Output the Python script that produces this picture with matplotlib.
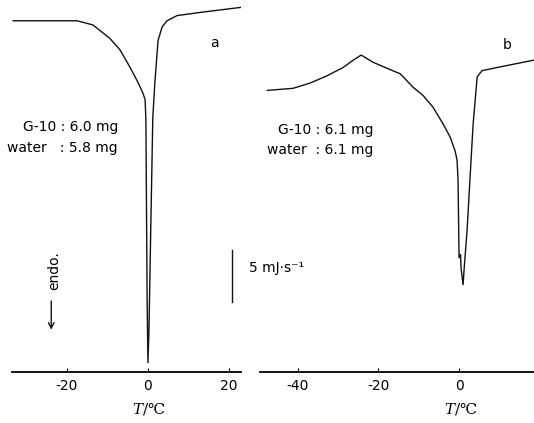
import matplotlib
matplotlib.use('Agg')
import matplotlib.pyplot as plt
import matplotlib.transforms as mtransforms

plt.rcParams['mathtext.fontset'] = 'dejavuserif'

# DSC curve a (G-10 6.0 mg / water 5.8 mg): temperature (C), heat flow (mJ/s, arbitrary offset)
temp_a = [-33.3, -26.7, -17.5, -13.6, -9.4, -6.9, -4.4, -2.5, -1.2, -0.7, -0.5, -0.37, -0.2, 0.0,
          0.25, 0.6, 1.2, 1.7, 2.5, 3.5, 4.7, 7.2, 12.8, 23.2]
flow_a = [33.8, 33.8, 33.8, 33.4, 32.1, 31.0, 29.3, 27.9, 26.8, 26.2, 24.2, 16.5, 6.9, 0.9,
          4.0, 11.7, 24.5, 27.8, 31.9, 33.2, 33.8, 34.3, 34.6, 35.1]

# DSC curve b (G-10 6.1 mg / water 6.1 mg)
temp_b = [-47.6, -41.2, -37.0, -32.8, -28.8, -26.3, -24.3, -21.3, -17.1, -14.6, -11.4, -8.9,
          -6.5, -4.0, -2.2, -1.0, -0.5, -0.25, -0.12, 0.0, 0.37, 0.5, 1.0, 1.24, 2.0, 2.7,
          3.5, 4.5, 5.7, 9.4, 18.4]
flow_b = [27.1, 27.3, 27.8, 28.5, 29.3, 30.0, 30.5, 29.8, 29.1, 28.7, 27.4, 26.6,
          25.5, 23.9, 22.6, 21.3, 20.4, 18.5, 14.6, 11.0, 11.3, 10.0, 8.4, 9.8, 13.7, 18.5,
          23.9, 28.4, 29.0, 29.3, 30.0]

ticks_a = [-20, 0, 20]
ticks_b = [-40, -20, 0]
scale_bar = 5  # mJ/s

fig = plt.figure(figsize=(5.34, 4.23), dpi=100)
W, H = 534, 423
ax_a = fig.add_axes([12 / W, (H - 372) / H, 229 / W, 372 / H])
ax_b = fig.add_axes([260 / W, (H - 372) / H, 274 / W, 372 / H])

for ax, t, f, ticks, xlim in [(ax_a, temp_a, flow_a, ticks_a, (-33.6, 23.0)),
                              (ax_b, temp_b, flow_b, ticks_b, (-49.4, 18.6))]:
    ax.plot(t, f, color='#111111', lw=1.0)
    ax.set_xlim(*xlim)
    ax.set_ylim(0, 35.8)
    for s in ['top', 'left', 'right']:
        ax.spines[s].set_visible(False)
    ax.spines['bottom'].set_linewidth(1.3)
    ax.set_yticks([])
    ax.set_xticks(ticks)
    ax.set_xticklabels([str(v) for v in ticks])
    ax.tick_params(axis='x', direction='in', length=3, width=0.8, pad=5, labelsize=10)
    ax.patch.set_alpha(0)
    # axis label centred under 0 C, as in the original figure
    trans = mtransforms.blended_transform_factory(ax.transData, ax.transAxes)
    ax.text(0.3, -0.097, '$T$/℃', transform=trans, ha='center', va='center',
            fontsize=11, family='DejaVu Serif')

# panel a annotations
ax_a.text(-7.4, 23.6, 'G-10 : 6.0 mg', ha='right', va='center', fontsize=10)
ax_a.text(-7.4, 21.6, 'water   : 5.8 mg', ha='right', va='center', fontsize=10)
ax_a.text(16.5, 31.7, 'a', ha='center', va='center', fontsize=10)
ax_a.text(-23.2, 9.8, 'endo.', rotation=90, ha='center', va='center', fontsize=10)
ax_a.annotate('', xy=(-23.9, 3.8), xytext=(-23.9, 7.1),
              arrowprops=dict(arrowstyle='->', lw=1.0, color='#111111'))
ax_a.plot([20.7, 20.7], [6.7, 6.7 + scale_bar], color='#111111', lw=1.0, clip_on=False)
ax_a.text(24.9, 10.0, '5 mJ·s⁻¹', ha='left', va='center', fontsize=10, clip_on=False)

# panel b annotations
ax_b.text(-21.3, 23.3, 'G-10 : 6.1 mg', ha='right', va='center', fontsize=10)
ax_b.text(-21.3, 21.4, 'water  : 6.1 mg', ha='right', va='center', fontsize=10)
ax_b.text(11.9, 31.5, 'b', ha='center', va='center', fontsize=10)

fig.savefig('out.png', dpi=100)
